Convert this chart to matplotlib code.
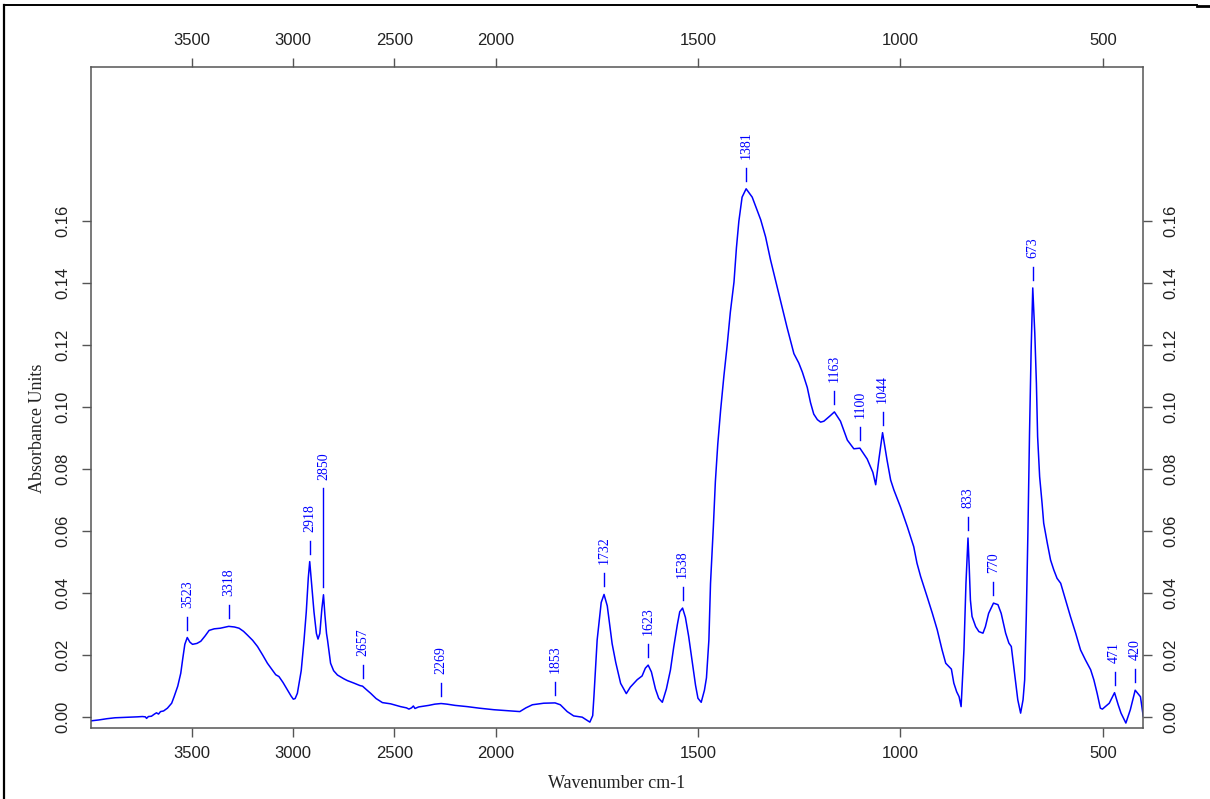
import numpy as np
import matplotlib
matplotlib.use("Agg")
import matplotlib.pyplot as plt
from matplotlib.lines import Line2D

plt.rcParams['font.family'] = ['Liberation Sans', 'DejaVu Sans']
plt.rcParams['ytick.alignment'] = 'center'

# spectrum (wavenumber cm-1, absorbance)
wavenumber = [
    4000, 3960, 3920, 3880, 3840, 3800, 3770, 3745, 3730, 3724, 3715, 3700,
    3685, 3675, 3665, 3655, 3640, 3621, 3600, 3588, 3570, 3555, 3545, 3535,
    3523, 3510, 3497, 3475, 3456, 3435, 3415, 3390, 3360, 3318, 3290, 3267,
    3245, 3226, 3200, 3176, 3150, 3127, 3100, 3086, 3070, 3050, 3028, 3010,
    2999, 2990, 2979, 2960, 2946, 2935, 2925, 2918, 2910, 2897, 2885, 2877,
    2868, 2858, 2850, 2843, 2835, 2830, 2815, 2800, 2781, 2750, 2732, 2700,
    2670, 2657, 2640, 2617, 2590, 2559, 2518, 2490, 2469, 2440, 2428, 2415,
    2406, 2398, 2380, 2330, 2300, 2269, 2240, 2200, 2140, 2080, 2008, 1970,
    1940, 1925, 1909, 1881, 1853, 1840, 1823, 1807, 1786, 1767, 1760, 1757,
    1749, 1739, 1732, 1724, 1712, 1703, 1691, 1677, 1667, 1650, 1638, 1630,
    1623, 1615, 1605, 1597, 1588, 1578, 1568, 1560, 1551, 1545, 1538, 1531,
    1523, 1514, 1506, 1500, 1492, 1484, 1479, 1473, 1469, 1462, 1457, 1451,
    1444, 1436, 1428, 1420, 1411, 1405, 1399, 1391, 1381, 1366, 1345, 1333,
    1321, 1296, 1280, 1263, 1251, 1242, 1230, 1222, 1214, 1205, 1197, 1189,
    1173, 1163, 1148, 1131, 1115, 1100, 1082, 1068, 1061, 1053, 1044, 1033,
    1024, 1016, 1000, 983, 967, 959, 950, 934, 921, 909, 897, 888,
    874, 868, 861, 855, 850, 843, 838, 833, 830, 827, 823, 814,
    806, 796, 790, 782, 770, 759, 751, 740, 732, 726, 721, 716,
    710, 703, 697, 693, 689, 685, 681, 677, 673, 668, 664, 661,
    656, 650, 646, 637, 629, 621, 613, 604, 592, 580, 567, 555,
    543, 530, 522, 514, 506, 501, 484, 471, 462, 455, 443, 432,
    420, 407, 400,
]
absorbance = [
    -0.0012, -0.0009, -0.0005, -0.0002, -0.0001, 0.0000, 0.0001, 0.0002, 0.0001, -0.0004, 0.0002, 0.0003,
    0.0010, 0.0014, 0.0010, 0.0018, 0.0020, 0.0029, 0.0045, 0.0066, 0.0100, 0.0142, 0.0190, 0.0235,
    0.0257, 0.0242, 0.0235, 0.0238, 0.0245, 0.0262, 0.0280, 0.0285, 0.0287, 0.0293, 0.0291, 0.0287,
    0.0277, 0.0265, 0.0248, 0.0228, 0.0200, 0.0174, 0.0150, 0.0137, 0.0131, 0.0112, 0.0088, 0.0068,
    0.0058, 0.0060, 0.0077, 0.0150, 0.0249, 0.0340, 0.0450, 0.0502, 0.0440, 0.0340, 0.0270, 0.0252,
    0.0270, 0.0350, 0.0395, 0.0330, 0.0270, 0.0249, 0.0174, 0.0150, 0.0136, 0.0124, 0.0118, 0.0110,
    0.0102, 0.0100, 0.0090, 0.0077, 0.0060, 0.0047, 0.0043, 0.0038, 0.0034, 0.0030, 0.0026, 0.0030,
    0.0036, 0.0028, 0.0033, 0.0038, 0.0042, 0.0044, 0.0042, 0.0038, 0.0034, 0.0029, 0.0024, 0.0021,
    0.0018, 0.0030, 0.0040, 0.0045, 0.0046, 0.0040, 0.0018, 0.0004, 0.0000, -0.0016, 0.0005, 0.0066,
    0.0249, 0.0370, 0.0396, 0.0359, 0.0237, 0.0176, 0.0109, 0.0076, 0.0097, 0.0121, 0.0133, 0.0158,
    0.0168, 0.0146, 0.0091, 0.0061, 0.0048, 0.0091, 0.0152, 0.0225, 0.0298, 0.0340, 0.0352, 0.0322,
    0.0261, 0.0176, 0.0103, 0.0061, 0.0048, 0.0087, 0.0127, 0.0249, 0.0431, 0.0614, 0.0760, 0.0882,
    0.0991, 0.1100, 0.1198, 0.1307, 0.1404, 0.1514, 0.1600, 0.1678, 0.1705, 0.1678, 0.1605, 0.1550,
    0.1477, 0.1344, 0.1258, 0.1173, 0.1143, 0.1113, 0.1064, 0.1015, 0.0978, 0.0960, 0.0952, 0.0955,
    0.0973, 0.0985, 0.0955, 0.0894, 0.0866, 0.0868, 0.0833, 0.0790, 0.0750, 0.0833, 0.0918, 0.0830,
    0.0765, 0.0733, 0.0679, 0.0615, 0.0550, 0.0497, 0.0454, 0.0389, 0.0335, 0.0282, 0.0217, 0.0174,
    0.0155, 0.0110, 0.0082, 0.0066, 0.0034, 0.0217, 0.0432, 0.0578, 0.0486, 0.0378, 0.0325, 0.0292,
    0.0276, 0.0271, 0.0292, 0.0335, 0.0368, 0.0363, 0.0335, 0.0271, 0.0239, 0.0228, 0.0174, 0.0120,
    0.0056, 0.0013, 0.0056, 0.0120, 0.0325, 0.0594, 0.0916, 0.1185, 0.1385, 0.1239, 0.1077, 0.0905,
    0.0776, 0.0690, 0.0626, 0.0561, 0.0507, 0.0475, 0.0448, 0.0432, 0.0378, 0.0325, 0.0271, 0.0217,
    0.0185, 0.0153, 0.0120, 0.0077, 0.0029, 0.0026, 0.0045, 0.0079, 0.0040, 0.0013, -0.0019, 0.0024,
    0.0087, 0.0066, 0.0002,
]

peaks = [3523, 3318, 2918, 2850, 2657, 2269, 1853, 1732, 1623, 1538,
         1381, 1163, 1100, 1044, 833, 770, 673, 471, 420]

x_ticks = [3500, 3000, 2500, 2000, 1500, 1000, 500]
y_ticks = [0.00, 0.02, 0.04, 0.06, 0.08, 0.10, 0.12, 0.14, 0.16]


# OPUS style axis: region above 2000 cm-1 is drawn at half scale
def fwd(x):
    x = np.asarray(x, dtype=float)
    return np.where(x > 2000, 2000 + (x - 2000) / 2.0, x)


def inv(u):
    u = np.asarray(u, dtype=float)
    return np.where(u > 2000, 2000 + (u - 2000) * 2.0, u)


fig = plt.figure(figsize=(12.1, 7.99), dpi=100)
ax = fig.add_axes([0.07496, 0.08924, 0.8699, 0.8273])

blue = '#0000ff'
ax.plot(wavenumber, absorbance, color=blue, lw=1.1)

ax.set_xscale('function', functions=(fwd, inv))
ax.set_xlim(4000, 400)
ax.set_ylim(-0.0034, 0.2099)

# peak markers
wn_asc = np.array(wavenumber[::-1])
ab_asc = np.array(absorbance[::-1])
px = 0.02 / 62.0  # one pixel in absorbance units
for p in peaks:
    yp = np.interp(p, wn_asc, ab_asc)
    top = 21 * px
    txt = 30 * px
    if p == 2850:
        top = 107 * px
        txt = 115 * px
    ax.plot([p, p], [yp + 8 * px, yp + top], color=blue, lw=1.0)
    ax.text(p, yp + txt, str(p), rotation=90, ha='center', va='bottom',
            color=blue, fontsize=10, family=['Liberation Serif', 'DejaVu Serif'])

ax.set_xticks(x_ticks)
ax.set_xticklabels([str(t) for t in x_ticks])
ax.set_yticks(y_ticks)
ax.set_yticklabels(['%.2f' % t for t in y_ticks])
ax.minorticks_off()

ax.tick_params(axis='both', direction='out', length=6.5, width=1.0,
               color='#555555', labelsize=12, labelcolor='#222222')
ax.tick_params(axis='x', top=True, labeltop=True, pad=7)
ax.tick_params(axis='y', right=True, labelright=True, labelrotation=90, pad=8)

for s in ax.spines.values():
    s.set_color('#555555')
    s.set_linewidth(1.1)

serif = ['Liberation Serif', 'DejaVu Serif']
fig.text(0.5099, 0.0188, 'Wavenumber cm-1', ha='center', va='center',
         fontsize=13, family=serif, color='#222222')
fig.text(0.0314, 0.4643, 'Absorbance Units', ha='center', va='center',
         rotation=90, fontsize=13, family=serif, color='#222222')

# frame of the screenshot
fig.add_artist(Line2D([3.5 / 1210, 3.5 / 1210], [0, 1 - 4.5 / 799],
                      transform=fig.transFigure, color='black', lw=1.6))
fig.add_artist(Line2D([3.5 / 1210, 1197 / 1210], [1 - 4.5 / 799, 1 - 4.5 / 799],
                      transform=fig.transFigure, color='black', lw=1.4))
fig.add_artist(Line2D([1197 / 1210, 1.0], [1 - 5.8 / 799, 1 - 5.8 / 799],
                      transform=fig.transFigure, color='black', lw=2.0))

fig.savefig('out.png', dpi=100)
